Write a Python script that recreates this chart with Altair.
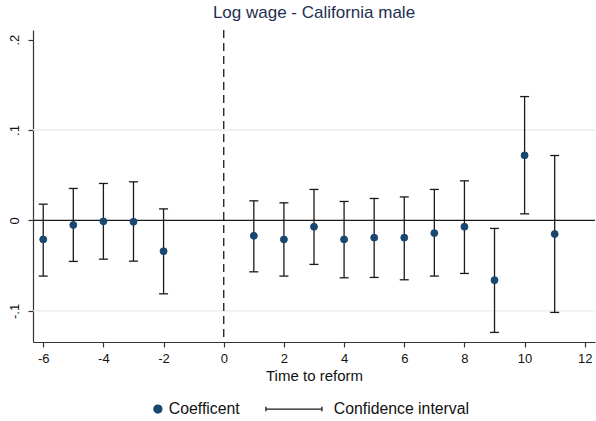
import altair as alt
import pandas as pd

# Event-study estimates: log wage, California male
periods = [-6, -5, -4, -3, -2, 1, 2, 3, 4, 5, 6, 7, 8, 9, 10, 11]
coef = [-0.021, -0.005, -0.001, -0.0015, -0.034, -0.017, -0.021, -0.007,
        -0.021, -0.019, -0.019, -0.014, -0.007, -0.066, 0.072, -0.015]
ci_lo = [-0.0615, -0.0453, -0.0428, -0.045, -0.0811, -0.0568, -0.0615, -0.0486,
         -0.0634, -0.063, -0.0656, -0.0615, -0.0586, -0.1238, 0.0073, -0.1017]
ci_hi = [0.018, 0.0354, 0.0409, 0.0427, 0.0128, 0.0217, 0.0195, 0.0343,
         0.021, 0.0243, 0.026, 0.0343, 0.0438, -0.0088, 0.137, 0.0718]

x_ticks = [-6, -4, -2, 0, 2, 4, 6, 8, 10, 12]
y_ticks = [-0.1, 0, 0.1, 0.2]
grid_vals = [-0.1, 0.1]
zero_line = [0]
reform_time = [0]
series_names = ["Coefficent", "Confidence interval"]

FONT = "Liberation Sans"
NAVY = "#1a476f"
INK = "#1a1a1a"

est = pd.DataFrame({"period": periods, "coef": coef, "lo": ci_lo, "hi": ci_hi,
                    "series": series_names[0]})

xscale = alt.Scale(domain=[-6.34, 12.34], nice=False, zero=False)
yscale = alt.Scale(domain=[-0.1344, 0.2106], nice=False, zero=False)

# plain hyphen minus signs; y labels without the leading zero
xaxis = alt.Axis(values=x_ticks, grid=False, tickSize=5, tickColor="#333333",
                 domainColor="#333333", domainWidth=1.2, tickWidth=1.2,
                 labelFontSize=13, labelPadding=5, labelColor="#111111",
                 titleFontSize=15, titleFontWeight="normal", titlePadding=3,
                 titleColor="#111111", labelFont=FONT, titleFont=FONT,
                 labelExpr="'' + datum.value")
yaxis = alt.Axis(values=y_ticks, grid=False, tickSize=5, tickColor="#333333",
                 domainColor="#333333", domainWidth=1.2, tickWidth=1.2,
                 labelFontSize=13, labelAngle=270, labelPadding=7,
                 labelColor="#111111", labelFont=FONT,
                 labelExpr="replace('' + datum.value, '0.', '.')")

X_TITLE = "Time to reform"


def xenc(field):
    return alt.X(field, type="quantitative", scale=xscale, axis=xaxis, title=X_TITLE)


def yenc(field):
    return alt.Y(field, type="quantitative", scale=yscale, axis=yaxis, title=None)


grid = alt.Chart(pd.DataFrame({"g": grid_vals})).mark_rule(
    color="#e6eeee", strokeWidth=1.3
).encode(y=yenc("g"))

zero = alt.Chart(pd.DataFrame({"z": zero_line})).mark_rule(
    color=INK, strokeWidth=1.3
).encode(y=yenc("z"))

vline = alt.Chart(pd.DataFrame({"t": reform_time})).mark_rule(
    color=INK, strokeWidth=1.3, strokeDash=[8, 5]
).encode(x=xenc("t"))

bars = alt.Chart(est).mark_rule(color=INK, strokeWidth=1.3).encode(
    x=xenc("period"), y=yenc("lo"), y2="hi"
)

caps = alt.Chart(est).transform_fold(["lo", "hi"], as_=["end", "val"]).mark_tick(
    orient="horizontal", size=9, thickness=1.3, color=INK, opacity=1
).encode(x=xenc("period"), y=yenc("val"))

# legend symbols: plain circle for the estimate, capped line for the interval
ci_path = "M-14.25,0L-0.25,0M-14.25,-0.55L-14.25,0.55M-0.25,-0.55L-0.25,0.55"
legend = alt.Legend(title=None, orient="none", legendX=117, legendY=371,
                    direction="horizontal", symbolSize=64, symbolStrokeWidth=1.3,
                    labelFontSize=15.8, labelFont=FONT, labelColor="#111111",
                    labelOffset=3, columnPadding=23, padding=0)

points = alt.Chart(est).mark_point(
    filled=True, size=48, strokeWidth=1, opacity=1
).encode(
    x=xenc("period"),
    y=yenc("coef"),
    shape=alt.Shape("series:N", scale=alt.Scale(domain=series_names, range=["circle", ci_path]),
                    legend=legend),
    fill=alt.Fill("series:N", scale=alt.Scale(domain=series_names, range=[NAVY, INK]),
                  legend=legend),
    stroke=alt.Stroke("series:N", scale=alt.Scale(domain=series_names, range=[NAVY, INK]),
                      legend=legend),
)

chart = alt.layer(grid, zero, vline, bars, caps, points).properties(
    width=562,
    height=312,
    autosize=alt.AutoSizeParams(type="none"),
    padding={"left": 33, "top": 30, "right": 1, "bottom": 79},
    background="white",
    title=alt.Title("Log wage - California male", fontSize=17, font=FONT,
                    fontWeight="normal", color="#1f3053", anchor="middle", offset=7),
).configure_view(stroke=None)

chart.save("out.html", embed_options={"renderer": "svg", "actions": False})
